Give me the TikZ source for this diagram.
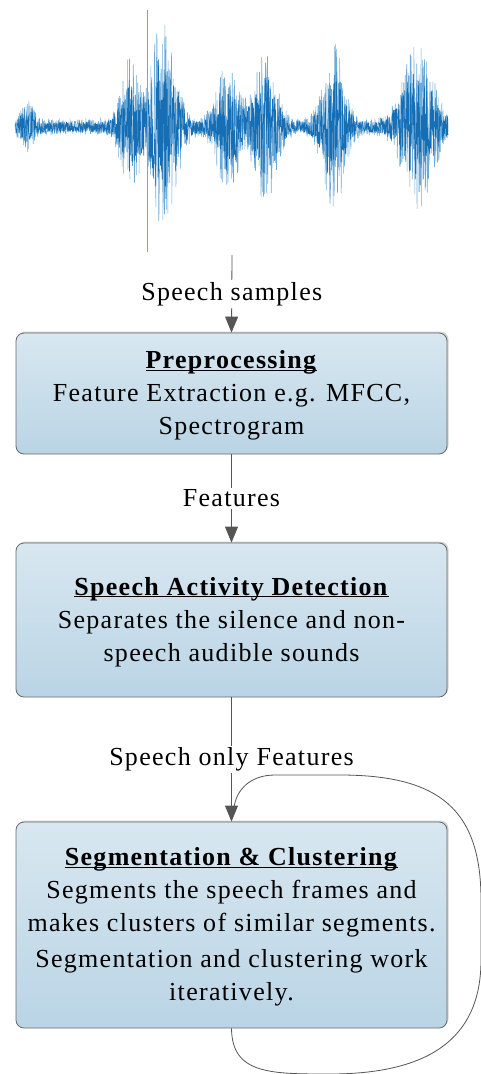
\documentclass[tikz,border=0pt]{standalone}
\usepackage{fontspec}
\setmainfont[LetterSpace=5]{Liberation Serif}
\usetikzlibrary{arrows.meta,shadows}
\definecolor{boxtop}{RGB}{216,231,240}
\definecolor{boxbot}{RGB}{186,212,229}
\definecolor{boxline}{RGB}{105,105,105}
\definecolor{wavedark}{RGB}{22,110,180}
\definecolor{wavelight}{RGB}{110,170,215}
\definecolor{arrowgray}{RGB}{85,85,85}
% envelope of the speech waveform (bursts of syllables)
\pgfmathdeclarefunction{env}{1}{%
  \pgfmathparse{6+18*exp(-((#1-27)/8)^2)
    +48*exp(-((#1-129)/11)^2)
    +80*exp(-((#1-163)/17)^2)
    +46*exp(-((#1-228)/15)^2)
    +56*exp(-((#1-266)/14)^2)
    +62*exp(-((#1-334)/14)^2)
    +62*exp(-((#1-418)/20)^2)}}
% bold underlined heading; the strut keeps the text block low in the box
\newcommand{\ttl}[1]{\rule{0pt}{22pt}\underline{\smash{\textbf{#1}}}}
\tikzset{
  stage/.style={draw=boxline, line width=0.8pt, rounded corners=8pt,
    top color=boxtop, bottom color=boxbot,
    minimum width=431pt, align=center, inner sep=0pt,
    font=\fontsize{26}{33}\selectfont,
    drop shadow={shadow xshift=1.5pt, shadow yshift=1.5pt, opacity=0.35, fill=gray}},
  flow/.style={draw=arrowgray, line width=0.8pt,
    -{Triangle[width=13pt,length=16pt]}, arrowgray},
  flowlabel/.style={fill=white, text=black, inner sep=2pt,
    font=\fontsize{26}{28}\selectfont},
  loopline/.style={draw=arrowgray, line width=0.8pt}
}
\begin{document}
\begin{tikzpicture}[x=1pt, y=-1pt]
\useasboundingbox (0,0) rectangle (481,1074);

% speech waveform
\pgfmathsetseed{11}
\draw[wavelight, line width=0.55pt] plot[samples=1400, domain=15:448]
  (\x, {127 + 1.25*env(\x)*rand});
\pgfmathsetseed{23}
\draw[wavedark, line width=0.55pt] plot[samples=1400, domain=15:448]
  (\x, {127 + 0.85*env(\x)*rand});
\draw[wavelight, line width=0.6pt] (147,10) -- (147,252);
\coordinate (wave) at (232,255);

% processing stages
\node[stage, minimum height=121pt] (pre) at (231.5,393.5)
  {\ttl{Preprocessing}\\Feature Extraction e.g. MFCC,\\Spectrogram};
\node[stage, minimum height=154pt] (sad) at (231.5,620)
  {\ttl{Speech Activity Detection}\\Separates the silence and non-\\speech audible sounds};
\node[stage, minimum height=206pt] (seg) at (231.5,925)
  {\ttl{Segmentation \& Clustering}\\Segments the speech frames and\\makes clusters of similar segments.\\[3pt]Segmentation and clustering work\\iteratively.};

% connectors
\draw[flow] (wave) -- node[flowlabel] {Speech samples} (pre.north);
\draw[flow] (pre.south) -- node[flowlabel] {Features} (sad.north);
\draw[flow] (sad.south) -- node[flowlabel] {Speech only Features} (seg.north);

% iteration loop
\coordinate (loopend) at (234,808);
\draw[loopline] (seg.south) .. controls (232,1074) and (270,1074) .. (330,1074)
  .. controls (440,1074) and (481,1030) .. (481,960)
  -- (481,900)
  .. controls (481,810) and (440,775) .. (340,775)
  -- (275,775)
  .. controls (250,775) and (236,790) .. (loopend);
\end{tikzpicture}
\end{document}
